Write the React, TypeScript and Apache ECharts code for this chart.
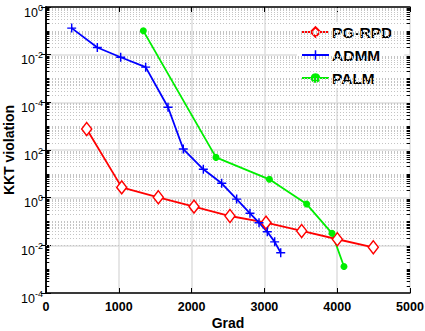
import React, { useEffect, useRef } from 'react';
import * as echarts from 'echarts';

const pgX = [559, 1040, 1543, 2033, 2527, 3022, 3512, 4002, 4496];
const pgY = [760, 2.7, 1.04, 0.42, 0.17, 0.089, 0.04, 0.018, 0.0083];
const admmX = [353, 705, 1026, 1369, 1676, 1886, 2161, 2413, 2619, 2802, 2926, 3040, 3141, 3224];
const admmY = [1.3e7, 2.0e6, 7.8e5, 3.0e5, 6.2e3, 110, 15.5, 4.0, 0.87, 0.22, 0.089, 0.037, 0.014, 0.0049];
const palmX = [1337, 2335, 3068, 3580, 3929, 4093];
const palmY = [1.0e7, 49, 5.9, 0.54, 0.032, 0.0013];

const seriesNames = ['PG-RPD', 'ADMM', 'PALM'];
const yTickExps = [8, 6, 4, 2, 0, -2, -4];
const yTickSups = ['0', '-2', '-4', '2', '0', '-2', '-4'];

const FONT = 'Liberation Sans, Arial, Helvetica, sans-serif';

export default function App() {
  const ref = useRef<HTMLDivElement>(null);
  useEffect(() => {
    document.body.style.margin = '0';
    const chart = echarts.init(ref.current!, null, { renderer: 'svg' });

    const minorVals: number[] = [];
    for (let n = -4; n < 8; n++) {
      if (Math.abs(n) % 2 === 1) minorVals.push(Math.pow(10, n));
      for (let k = 2; k <= 9; k++) minorVals.push(k * Math.pow(10, n));
    }
    const minorGrid = minorVals.map((v) => ({ yAxis: v }));
    const minorTicks: any[] = [];
    minorVals.forEach((v) => {
      minorTicks.push([{ coord: [0, v] }, { coord: [45, v] }]);
      minorTicks.push([{ coord: [4955, v] }, { coord: [5000, v] }]);
    });

    const zip = (xs: number[], ys: number[]) => xs.map((x, i) => [x, ys[i]]);

    const axisLine = { show: true, lineStyle: { color: '#000', width: 1.5 } };

    chart.setOption({
      animation: false,
      backgroundColor: '#fff',
      grid: { left: 46, right: 15, top: 7, bottom: 38, containLabel: false, outerBoundsMode: 'none' },
      legend: {
        data: seriesNames,
        orient: 'vertical',
        left: 297,
        top: 22,
        itemGap: 7,
        itemWidth: 27,
        itemHeight: 12,
        backgroundColor: '#fff',
        padding: [2, 12, 2, 4],
        textStyle: { fontFamily: FONT, fontWeight: 'bold', fontSize: 15.5, color: '#000', padding: [0, 0, 0, -2] },
      },
      xAxis: [
        {
          type: 'value',
          min: 0,
          max: 5000,
          interval: 1000,
          name: 'Grad',
          nameLocation: 'middle',
          nameMoveOverlap: false,
          nameGap: 23,
          nameTextStyle: { fontFamily: FONT, fontWeight: 'bold', fontSize: 14, color: '#000' },
          axisLine,
          axisTick: { show: true, inside: true, length: 5, lineStyle: { color: '#000' } },
          axisLabel: {
            fontFamily: FONT, fontWeight: 'bold', fontSize: 12.5, color: '#000', margin: 7,
            formatter: (v: number) => String(v),
          },
          splitLine: { show: true, lineStyle: { color: '#dedede', width: 1.5 } },
        },
        {
          type: 'value',
          position: 'top',
          min: 0,
          max: 5000,
          interval: 1000,
          axisLine,
          axisTick: { show: true, inside: true, length: 5, lineStyle: { color: '#000' } },
          axisLabel: { show: false },
          splitLine: { show: false },
        },
      ],
      yAxis: [
        {
          type: 'log',
          logBase: 10,
          min: 1e-4,
          max: 1e8,
          interval: 2,
          name: 'KKT violation',
          nameLocation: 'middle',
          nameMoveOverlap: false,
          nameGap: 30,
          nameTextStyle: { fontFamily: FONT, fontWeight: 'bold', fontSize: 14, color: '#000' },
          axisLine,
          axisTick: { show: true, inside: true, length: 5, lineStyle: { color: '#000' } },
          axisLabel: {
            margin: 3,
            padding: [8, 0, 0, 0],
            formatter: (val: number) => {
              const e = Math.round(Math.log10(val));
              const i = yTickExps.indexOf(e);
              if (i < 0) return '';
              return `{b|10}{s|${yTickSups[i]}}`;
            },
            rich: {
              b: { fontFamily: FONT, fontSize: 12.5, color: '#000', lineHeight: 16, verticalAlign: 'bottom' },
              s: { fontFamily: FONT, fontSize: 9, color: '#000', lineHeight: 9, verticalAlign: 'top' },
            },
          },
          splitLine: { show: true, lineStyle: { color: '#dedede', width: 1.5 } },
        },
        {
          type: 'log',
          logBase: 10,
          min: 1e-4,
          max: 1e8,
          interval: 2,
          position: 'right',
          axisLine,
          axisTick: { show: true, inside: true, length: 5, lineStyle: { color: '#000' } },
          axisLabel: { show: false },
          splitLine: { show: false },
        },
      ],
      series: [
        {
          type: 'line',
          name: '_grid',
          data: [],
          z: 1,
          silent: true,
          markLine: {
            silent: true,
            symbol: 'none',
            label: { show: false },
            lineStyle: { color: '#c4c4c4', type: [1, 2], width: 1 },
            data: minorGrid,
          },
        },
        {
          type: 'line',
          name: '_ticks',
          data: [],
          z: 1,
          silent: true,
          markLine: {
            silent: true,
            symbol: 'none',
            label: { show: false },
            lineStyle: { color: '#000', type: 'solid', width: 1 },
            data: minorTicks,
          },
        },
        {
          type: 'line',
          name: 'PG-RPD',
          data: zip(pgX, pgY),
          z: 5,
          color: '#ff0000',
          symbol: 'diamond',
          symbolSize: [10, 13],
          lineStyle: { color: '#ff0000', width: 1.8 },
          itemStyle: { color: '#ffffff', borderColor: '#ff0000', borderWidth: 1.5 },
        },
        {
          type: 'line',
          name: 'ADMM',
          data: zip(admmX, admmY),
          z: 5,
          color: '#0000ff',
          symbol: 'path://M4.2,0H5.8V10H4.2Z M0,4.2H10V5.8H0Z',
          symbolSize: 9,
          lineStyle: { color: '#0000ff', width: 1.8 },
          itemStyle: { color: '#0000ff' },
        },
        {
          type: 'line',
          name: 'PALM',
          data: zip(palmX, palmY),
          z: 5,
          color: '#00ee00',
          symbol: 'circle',
          symbolSize: 7,
          lineStyle: { color: '#00ee00', width: 1.8 },
          itemStyle: { color: '#00ee00' },
        },
      ],
    });
    return () => chart.dispose();
  }, []);
  return <div ref={ref} style={{ position: 'fixed', left: 0, top: 0, width: 425, height: 331 }} />;
}
